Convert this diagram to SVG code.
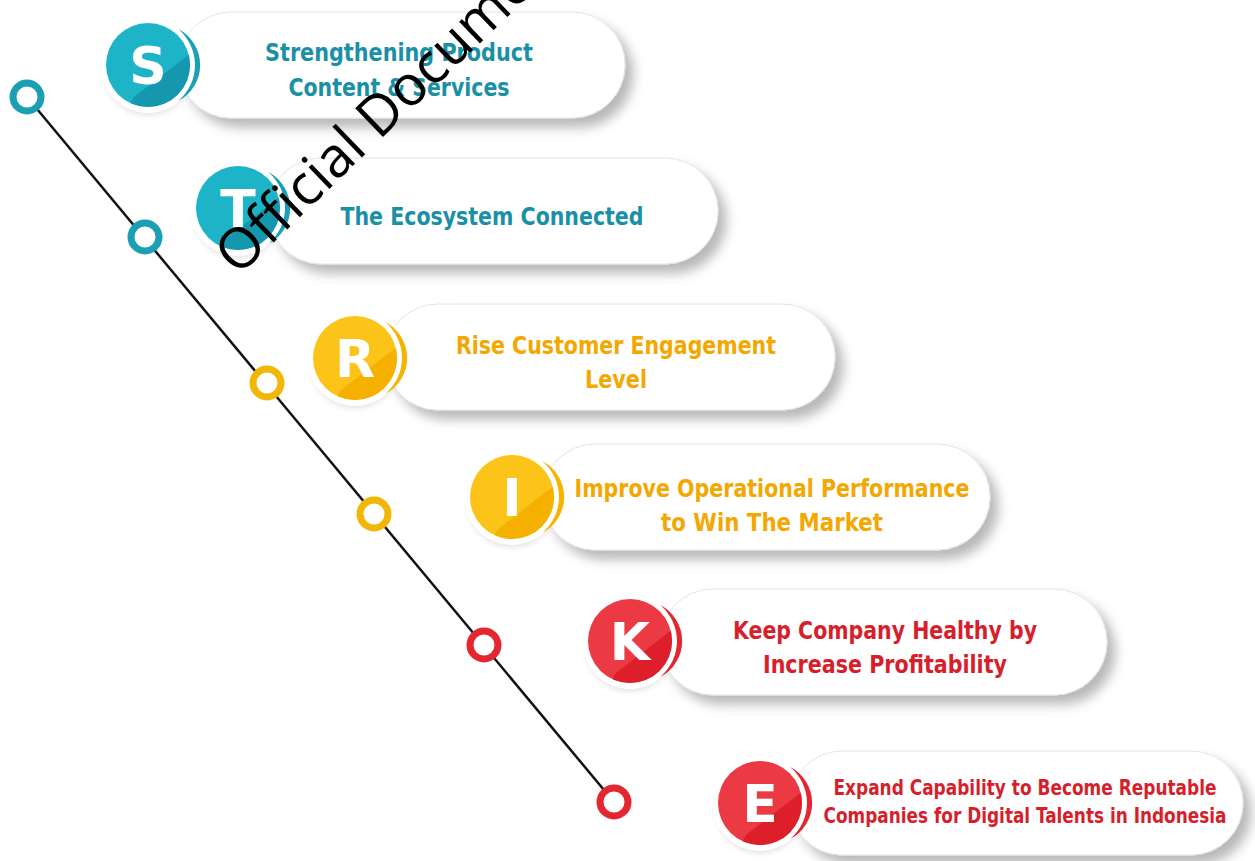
<svg xmlns="http://www.w3.org/2000/svg" width="1255" height="861" viewBox="0 0 1255 861">
<defs>
<style>
.pill{fill:#fff;stroke:#e4e4e4;stroke-width:1;filter:url(#sh)}
.t{font-family:"DejaVu Sans Condensed","DejaVu Sans",sans-serif;font-weight:bold;font-size:25px;text-anchor:middle}
.ts{font-size:21px}
.letter{font-family:"DejaVu Sans","Liberation Sans",sans-serif;font-weight:bold;font-size:52px;fill:#fff;text-anchor:middle}
.teal{fill:#1a90a6}
.yel{fill:#f2a800}
.red{fill:#d61f2b}
.ring{fill:#fff;stroke-width:7}
.halo{fill:#fff}
.bshadow{fill:#000;opacity:.12;filter:url(#bs)}
.wm{font-family:"Open Sans","Liberation Sans",sans-serif;font-size:56px;fill:#000}
</style>
<filter id="sh" x="-10%" y="-30%" width="130%" height="180%"><feDropShadow dx="8" dy="9" stdDeviation="6" flood-color="#000" flood-opacity="0.28"/></filter>
<filter id="bs" x="-30%" y="-30%" width="160%" height="160%"><feGaussianBlur stdDeviation="3"/></filter>
<clipPath id="bc"><circle r="42"/></clipPath>
<path id="cres" d="M30.2,-36 A40.5,40.5 0 0 1 30.2,36 A47,47 0 0 0 30.2,-36Z"/>
</defs>
<rect width="1255" height="861" fill="#fff"/>

<g id="connectors">
<line x1="27" y1="97" x2="614" y2="802" stroke="#111" stroke-width="2.5"/>
<circle class="ring" cx="27" cy="97" r="14" stroke="#1a9fb3"/>
<circle class="ring" cx="145" cy="237" r="14" stroke="#1a9fb3"/>
<circle class="ring" cx="267" cy="383" r="14" stroke="#f2b705"/>
<circle class="ring" cx="374" cy="514" r="14" stroke="#f2b705"/>
<circle class="ring" cx="484" cy="645" r="14" stroke="#e3262f"/>
<circle class="ring" cx="614" cy="802" r="14" stroke="#e3262f"/>
</g>

<g id="node-S">
<rect class="pill" x="178" y="12" width="447" height="106" rx="53"/>
<g transform="translate(148,65)">
<circle class="bshadow" cy="6" r="44"/>
<circle class="halo" r="48"/>
<use href="#cres" fill="#1aa0b6"/>
<circle r="42" fill="#1db4c8"/>
<path d="M-14,32 L43,-12 L60,60 L-30,60Z" fill="#1598ad" clip-path="url(#bc)"/>
<text class="letter" y="19">S</text>
</g>
<text class="t teal" x="399" y="61" textLength="268" lengthAdjust="spacingAndGlyphs">Strengthening Product</text>
<text class="t teal" x="399" y="96" textLength="221" lengthAdjust="spacingAndGlyphs">Content &amp; Services</text>
</g>

<g id="node-T">
<rect class="pill" x="268" y="158" width="450" height="106" rx="53"/>
<g transform="translate(238,208)">
<circle class="bshadow" cy="6" r="44"/>
<circle class="halo" r="48"/>
<use href="#cres" fill="#1aa0b6"/>
<circle r="42" fill="#1db4c8"/>
<path d="M-14,32 L43,-12 L60,60 L-30,60Z" fill="#1598ad" clip-path="url(#bc)"/>
<text class="letter" y="19">T</text>
</g>
<text class="t teal" x="492" y="225" textLength="303" lengthAdjust="spacingAndGlyphs">The Ecosystem Connected</text>
</g>

<g id="node-R">
<rect class="pill" x="385" y="304" width="450" height="106" rx="53"/>
<g transform="translate(355,358)">
<circle class="bshadow" cy="6" r="44"/>
<circle class="halo" r="48"/>
<use href="#cres" fill="#f4b400"/>
<circle r="42" fill="#fcc419"/>
<path d="M-14,32 L43,-12 L60,60 L-30,60Z" fill="#f5b000" clip-path="url(#bc)"/>
<text class="letter" y="19">R</text>
</g>
<text class="t yel" x="616" y="354" textLength="320" lengthAdjust="spacingAndGlyphs">Rise Customer Engagement</text>
<text class="t yel" x="616" y="388" textLength="62" lengthAdjust="spacingAndGlyphs">Level</text>
</g>

<g id="node-I">
<rect class="pill" x="542" y="444" width="448" height="106" rx="53"/>
<g transform="translate(512,497)">
<circle class="bshadow" cy="6" r="44"/>
<circle class="halo" r="48"/>
<use href="#cres" fill="#f4b400"/>
<circle r="42" fill="#fcc419"/>
<path d="M-14,32 L43,-12 L60,60 L-30,60Z" fill="#f5b000" clip-path="url(#bc)"/>
<text class="letter" y="19">I</text>
</g>
<text class="t yel" x="772" y="497" textLength="395" lengthAdjust="spacingAndGlyphs">Improve Operational Performance</text>
<text class="t yel" x="772" y="531" textLength="222" lengthAdjust="spacingAndGlyphs">to Win The Market</text>
</g>

<g id="node-K">
<rect class="pill" x="660" y="589" width="447" height="106" rx="53"/>
<g transform="translate(630,641)">
<circle class="bshadow" cy="6" r="44"/>
<circle class="halo" r="48"/>
<use href="#cres" fill="#e3262f"/>
<circle r="42" fill="#ec3a44"/>
<path d="M-14,32 L43,-12 L60,60 L-30,60Z" fill="#dc1f2b" clip-path="url(#bc)"/>
<text class="letter" y="19">K</text>
</g>
<text class="t red" x="885" y="639" textLength="304" lengthAdjust="spacingAndGlyphs">Keep Company Healthy by</text>
<text class="t red" x="885" y="673" textLength="244" lengthAdjust="spacingAndGlyphs">Increase Profitability</text>
</g>

<g id="node-E">
<rect class="pill" x="790" y="751" width="453" height="104" rx="52"/>
<g transform="translate(760,803)">
<circle class="bshadow" cy="6" r="44"/>
<circle class="halo" r="48"/>
<use href="#cres" fill="#e3262f"/>
<circle r="42" fill="#ec3a44"/>
<path d="M-14,32 L43,-12 L60,60 L-30,60Z" fill="#dc1f2b" clip-path="url(#bc)"/>
<text class="letter" y="19">E</text>
</g>
<text class="t ts red" x="1025" y="795" textLength="383" lengthAdjust="spacingAndGlyphs">Expand Capability to Become Reputable</text>
<text class="t ts red" x="1025" y="823" textLength="403" lengthAdjust="spacingAndGlyphs">Companies for Digital Talents in Indonesia</text>
</g>

<text class="wm" x="238" y="277" transform="rotate(-44 238 277)">Official Document</text>
</svg>
